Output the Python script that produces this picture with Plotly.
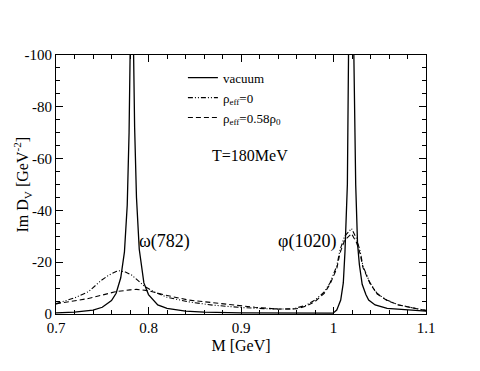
import plotly.graph_objects as go

# vacuum spectral function (solid)
m_vac = [0.70, 0.72, 0.74, 0.75, 0.76, 0.765, 0.77, 0.774, 0.777, 0.779, 0.7805, 0.782,
         0.7835, 0.785, 0.787, 0.79, 0.795, 0.80, 0.81, 0.82, 0.84, 0.86, 0.90, 0.95,
         0.9995, 1.0035, 1.0078, 1.0106, 1.0124, 1.015, 1.017, 1.0195, 1.022, 1.024,
         1.026, 1.028, 1.031, 1.035, 1.038, 1.045, 1.058, 1.08, 1.10]
d_vac = [-0.45, -0.75, -1.5, -2.6, -5.2, -8.0, -14, -24, -42, -70, -110, -150,
         -110, -72, -45, -25, -12, -7.5, -3.5, -2.2, -1.1, -0.7, -0.4, -0.3,
         -0.3, -1.5, -5.4, -12, -24, -50, -100, -230, -100, -50,
         -27, -19, -11.5, -7.5, -5.4, -3.5, -2.2, -1.5, -1.1]

# rho_eff = 0 (dash-dot-dot)
m_rho0 = [0.70, 0.71, 0.72, 0.735, 0.749, 0.757, 0.765, 0.769, 0.775, 0.782, 0.79, 0.796,
          0.807, 0.82, 0.843, 0.87, 0.90, 0.93, 0.955, 0.97, 0.98, 0.99, 0.9962, 1.0035,
          1.007, 1.012, 1.0195, 1.025, 1.0286, 1.032, 1.0395, 1.047, 1.0575, 1.07, 1.085, 1.10]
d_rho0 = [-4.0, -5.0, -6.2, -8.6, -13, -15, -16.4, -16.7, -16.2, -15.0, -12.5, -10.6,
          -8.4, -6.5, -4.7, -3.4, -2.5, -2.0, -1.9, -3.3, -5.4, -8.5, -12, -18.5,
          -24.7, -30, -33, -29, -24.5, -18.3, -12, -8, -5.4, -3.6, -2.4, -1.4]

# rho_eff = 0.58 rho_0 (dashed)
m_rho58 = [0.70, 0.72, 0.735, 0.75, 0.764, 0.78, 0.787, 0.80, 0.818, 0.843, 0.879, 0.915,
           0.94, 0.96, 0.97, 0.98, 0.99, 0.9962, 1.0035, 1.007, 1.012, 1.0195, 1.025,
           1.0286, 1.032, 1.0395, 1.047, 1.0575, 1.07, 1.085, 1.10]
d_rho58 = [-3.9, -5.0, -6.0, -7.3, -8.6, -9.3, -9.5, -9.0, -7.3, -5.4, -3.9, -2.6,
           -1.9, -2.0, -3.0, -4.8, -8.0, -11.5, -17.5, -23.5, -28.5, -31, -27.5,
           -23.5, -17.8, -11.8, -7.8, -5.3, -3.5, -2.3, -1.3]

xtick_vals = [0.7, 0.8, 0.9, 1.0, 1.1]
xtick_text = ["0.7", "0.8", "0.9", "1", "1.1"]
ytick_vals = [-100, -80, -60, -40, -20, 0]
ytick_text = ["-100", "-80", "-60", "-40", "-20", "0"]

serif = "Liberation Serif"

fig = go.Figure()
fig.add_trace(go.Scatter(x=m_vac, y=d_vac, mode="lines", name="vacuum",
                         line=dict(color="black", width=1.3)))
fig.add_trace(go.Scatter(x=m_rho0, y=d_rho0, mode="lines", name="ρ<sub>eff</sub>=0",
                         line=dict(color="black", width=1.1, dash="5px,2px,1px,2px,1px,2px")))
fig.add_trace(go.Scatter(x=m_rho58, y=d_rho58, mode="lines",
                         name="ρ<sub>eff</sub>=0.58ρ<sub>0</sub>",
                         line=dict(color="black", width=1.1, dash="5px,3px")))

axis_common = dict(showline=True, linecolor="black", linewidth=1.2, mirror="allticks",
                   ticks="inside", ticklen=7, tickwidth=1, tickcolor="black",
                   showgrid=False, zeroline=False,
                   tickfont=dict(family=serif, size=15, color="black"))

fig.update_xaxes(range=[0.7, 1.1], tickvals=xtick_vals, ticktext=xtick_text,
                 minor=dict(ticks="inside", dtick=0.02, ticklen=4, tickcolor="black"),
                 title=dict(text="M [GeV]", font=dict(family=serif, size=16, color="black"),
                            standoff=4),
                 **axis_common)
fig.update_yaxes(range=[0, -100], tickvals=ytick_vals, ticktext=ytick_text,
                 minor=dict(ticks="inside", dtick=5, ticklen=4, tickcolor="black"),
                 **axis_common)

# y axis title placed close to the tick labels
fig.add_annotation(x=-0.092, y=0.5, xref="paper", yref="paper", textangle=-90,
                   xanchor="center", yanchor="middle",
                   text="Im D<sub>V</sub> [GeV<sup>-2</sup>]", showarrow=False,
                   font=dict(family=serif, size=16, color="black"))

fig.add_annotation(x=0.817, y=-28, text="ω(782)", showarrow=False,
                   font=dict(family=serif, size=18, color="black"))
fig.add_annotation(x=0.9715, y=-28, text="φ(1020)", showarrow=False,
                   font=dict(family=serif, size=18, color="black"))
fig.add_annotation(x=0.415, y=0.612, xref="paper", yref="paper", xanchor="left",
                   text="T=180MeV", showarrow=False,
                   font=dict(family=serif, size=16, color="black"))

# the page adds an 8px body margin, so the figure is shrunk by that amount
fig.update_layout(
    width=472, height=363,
    margin=dict(l=48, r=54, t=47, b=57),
    paper_bgcolor="white", plot_bgcolor="white",
    showlegend=True,
    legend=dict(x=0.343, y=0.97, xanchor="left", yanchor="top",
                bgcolor="rgba(0,0,0,0)", itemwidth=30, tracegroupgap=2,
                font=dict(family=serif, size=13, color="black")),
)

fig.write_html("out.html")
